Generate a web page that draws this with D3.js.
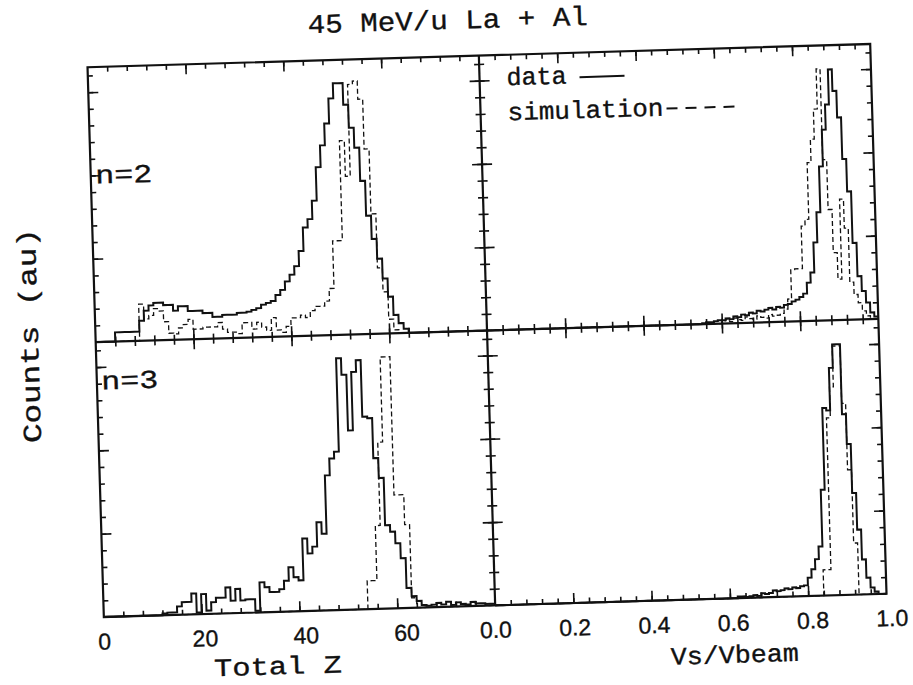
<!DOCTYPE html>
<html lang="en">
<head>
<meta charset="utf-8">
<title>45 MeV/u La + Al</title>
<script src="https://cdn.jsdelivr.net/npm/d3@7"></script>
<style>
  body { margin: 0; background: #fff; }
  text { fill: #111; stroke: #111; stroke-width: 0.35px; }
</style>
</head>
<body>
<div id="chart"></div>
<script>
// bin starts: Total Z in steps of 1, Vs/Vbeam in steps of 0.01
var zBins = d3.range(0, 80);
var vBins = d3.range(0, 100).map(function(k) { return k / 100; });

// n=2, Total Z
var zTopData = [0,0,0,0,11,11,11,11,11,24, 36,42,45,45,42,42,35,40,40,34,
  34,34,31,31,26,26,28,28,28,30, 30,31,33,35,39,41,43,50,56,66,
  74,84,102,130,140,162,202,228,254,284, 302,302,276,248,224,184,142,114,90,66,
  44,22,12,5,0,0,0,0,0,0, 0,0,0,0,0,0,0,0,0,0];
var zTopSim = [0,0,0,0,0,0,0,0,0,44, 26,30,38,35,22,8,7,14,18,24,
  12,12,14,14,14,19,11,7,7,5, 18,18,10,18,12,8,23,8,5,12,
  22,22,25,22,30,35,35,41,56,113, 113,233,190,300,304,282,222,144,79,50,
  17,4,0,0,0,0,0,0,0,0, 0,0,0,0,0,0,0,0,0,0];

// n=3, Total Z
var zBotData = [0,0,0,0,0,0,0,0,0,0, 0,0,2,3,3,10,15,15,25,2,
  24,4,14,19,19,31,15,29,15,16, 16,2,36,30,24,24,27,37,53,41,
  37,87,69,77,106,92,162,182,190,302, 282,215,285,299,231,229,181,157,100,92,
  78,60,24,14,8,3,2,3,5,3, 6,2,5,3,2,5,3,3,2,2];
var zBotSim = [0,0,0,0,0,0,0,0,0,0, 0,0,0,0,0,0,0,0,0,0,
  0,0,0,0,0,0,0,0,0,0, 0,0,0,0,0,0,0,0,0,0,
  0,0,0,0,0,0,0,0,0,0, 0,0,0,0,34,34,100,200,302,302,
  136,136,100,12,0,0,0,0,0,0, 0,0,0,0,0,0,0,0,0,0];

// n=2, Vs/Vbeam
var vTopData = [0,0,0,0,0,0,0,0,0,0, 0,0,0,0,0,0,0,0,0,0,
  0,0,0,0,0,0,0,0,0,0, 0,0,0,0,0,0,0,0,0,0,
  0,0,0,0,0,0,0,0,0,0, 0,0,0,0,0,1,2,2,3,4,
  4,6,5,8,7,10,9,12,11,14, 13,15,17,15,18,17,20,21,24,26,
  29,33,46,58,94,130,185,229,259,301, 275,243,193,154,92,52,34,20,8,3];
var vTopSim = [0,0,0,0,0,0,0,0,0,0, 0,0,0,0,0,0,0,0,0,0,
  0,0,0,0,0,0,0,0,0,0, 0,0,0,0,0,0,0,0,0,0,
  0,0,0,0,0,0,0,0,0,0, 0,0,0,0,0,0,0,0,0,0,
  3,5,2,6,4,3,7,5,4,8, 6,5,9,7,8,10,15,27,62,63,
  63,114,122,190,218,254,302,193,133,81, 49,145,110,45,30,20,10,4,0,0];

// n=3, Vs/Vbeam
var vBotData = [0,0,0,0,0,0,0,0,0,0, 0,0,0,0,0,0,0,0,0,0,
  0,0,0,0,0,0,0,0,0,0, 0,0,0,0,0,0,0,0,0,0,
  0,0,0,0,0,0,0,0,0,0, 0,0,0,0,0,0,0,0,0,0,
  0,0,2,2,1,2,3,2,5,4, 5,8,7,8,10,9,11,10,12,13,
  22,32,44,59,127,225,222,273,301,301, 217,181,122,78,42,20,8,3,0,0];
var vBotSim = [0,0,0,0,0,0,0,0,0,0, 0,0,0,0,0,0,0,0,0,0,
  0,0,0,0,0,0,0,0,0,0, 0,0,0,0,0,0,0,0,0,0,
  0,0,0,0,0,0,0,0,0,0, 0,0,0,0,0,0,0,0,0,0,
  0,0,0,0,0,0,0,0,0,0, 0,0,0,0,0,0,0,0,0,0,
  0,0,0,0,31,31,213,250,299,299, 230,150,62,0,0,0,0,0,0,0];

var zLabels = ["0", "20", "40", "60"];
var vLabels = ["0.0", "0.2", "0.4", "0.6", "0.8", "1.0"];

var W = 913, H = 685;
var svg = d3.select("#chart").append("svg")
  .attr("width", W).attr("height", H)
  .style("background", "#fff");

// the scanned page sits slightly tilted
var g = svg.append("g").attr("transform", "rotate(-1.7,487,330)");

var xZ = d3.scaleLinear().domain([0, 80]).range([95.5, 487]);
var xV = d3.scaleLinear().domain([0, 1]).range([487, 878.5]);
var yTop = d3.scaleLinear().domain([0, 330]).range([330.5, 55.5]);
var yBot = d3.scaleLinear().domain([0, 330]).range([605.5, 330.5]);

var zMinor = d3.range(4, 80, 4), zMajor = [20, 40, 60];
var vMinor = d3.range(1, 25).map(function(k) { return k * 0.04; }), vMajor = [0.2, 0.4, 0.6, 0.8];
var yMinor = d3.range(20, 330, 20), yMajor = [100, 200, 300];

function ticks(x, y, xMinor, xMajor) {
  var p = g.append("g").attr("class", "ticks");
  var xl = x.range()[0], xr = x.range()[1], yt = y.range()[1], yb = y.range()[0];
  [[xMinor, 5], [xMajor, 10]].forEach(function(t) {
    p.append("g").attr("transform", "translate(0," + yt + ")")
      .call(d3.axisBottom(x).tickValues(t[0]).tickSize(t[1]).tickFormat(""));
    p.append("g").attr("transform", "translate(0," + yb + ")")
      .call(d3.axisTop(x).tickValues(t[0]).tickSize(t[1]).tickFormat(""));
  });
  [[yMinor, 5], [yMajor, 10]].forEach(function(t) {
    p.append("g").attr("transform", "translate(" + xl + ",0)")
      .call(d3.axisRight(y).tickValues(t[0]).tickSize(t[1]).tickFormat(""));
    p.append("g").attr("transform", "translate(" + xr + ",0)")
      .call(d3.axisLeft(y).tickValues(t[0]).tickSize(t[1]).tickFormat(""));
  });
  p.selectAll(".domain").remove();
  p.selectAll(".tick line").attr("stroke", "#111").attr("stroke-width", 1.6);
}

function hist(x, y, bins, vals, width, dashed) {
  var pts = bins.map(function(b, i) { return [b, vals[i]]; });
  pts.push([bins[bins.length - 1] + width, vals[vals.length - 1]]);
  var line = d3.line()
    .x(function(d) { return x(d[0]); })
    .y(function(d) { return y(d[1]); })
    .curve(d3.curveStepAfter);
  g.append("path")
    .attr("d", line(pts))
    .attr("fill", "none")
    .attr("stroke", "#111")
    .attr("stroke-width", dashed ? 1.3 : 2)
    .attr("stroke-dasharray", dashed ? "5,3" : null);
}

ticks(xZ, yTop, zMinor, zMajor);
ticks(xV, yTop, vMinor, vMajor);
ticks(xZ, yBot, zMinor, zMajor);
ticks(xV, yBot, vMinor, vMajor);

hist(xZ, yTop, zBins, zTopSim, 1, true);
hist(xZ, yTop, zBins, zTopData, 1, false);
hist(xZ, yBot, zBins, zBotSim, 1, true);
hist(xZ, yBot, zBins, zBotData, 1, false);
hist(xV, yTop, vBins, vTopSim, 0.01, true);
hist(xV, yTop, vBins, vTopData, 0.01, false);
hist(xV, yBot, vBins, vBotSim, 0.01, true);
hist(xV, yBot, vBins, vBotData, 0.01, false);

// frame and dividers
g.append("rect")
  .attr("x", xZ(0)).attr("y", yTop(330))
  .attr("width", xV(1) - xZ(0)).attr("height", yBot(0) - yTop(330))
  .attr("fill", "none").attr("stroke", "#111").attr("stroke-width", 2.2);
g.append("line")
  .attr("x1", xV(0)).attr("x2", xV(0)).attr("y1", yTop(330)).attr("y2", yBot(0))
  .attr("stroke", "#111").attr("stroke-width", 2.2);
g.append("line")
  .attr("x1", xZ(0)).attr("x2", xV(1)).attr("y1", yTop(0)).attr("y2", yTop(0))
  .attr("stroke", "#111").attr("stroke-width", 2.2);

// tick labels
var mono = "'Liberation Mono', 'DejaVu Sans Mono', monospace";
var sans = "'Liberation Sans', Arial, sans-serif";
g.selectAll(".zlab").data(zLabels).enter().append("text")
  .attr("x", function(d, i) { return xZ(+d) + i * 3; })
  .attr("y", 638)
  .attr("text-anchor", "middle")
  .style("font-family", sans).style("font-size", "23px")
  .text(function(d) { return d; });
g.selectAll(".vlab").data(vLabels).enter().append("text")
  .attr("x", function(d, i) { return xV(+d) + i; })
  .attr("y", 638)
  .attr("text-anchor", "middle")
  .style("font-family", sans).style("font-size", "23px")
  .text(function(d) { return d; });

// titles
g.append("text").attr("x", 457).attr("y", 28).attr("text-anchor", "middle")
  .attr("textLength", 280).attr("lengthAdjust", "spacingAndGlyphs")
  .style("font-family", mono).style("font-size", "27px")
  .text("45 MeV/u La + Al");
g.append("text").attr("x", 268).attr("y", 668).attr("text-anchor", "middle")
  .attr("textLength", 128).attr("lengthAdjust", "spacingAndGlyphs")
  .style("font-family", mono).style("font-size", "25px")
  .text("Total Z");
g.append("text").attr("x", 725).attr("y", 670).attr("text-anchor", "middle")
  .attr("textLength", 128).attr("lengthAdjust", "spacingAndGlyphs")
  .style("font-family", mono).style("font-size", "25px")
  .text("Vs/Vbeam");
g.append("text").attr("transform", "translate(38,322) rotate(-90)")
  .attr("text-anchor", "middle")
  .attr("textLength", 215).attr("lengthAdjust", "spacingAndGlyphs")
  .style("font-family", mono).style("font-size", "26px")
  .text("Counts (au)");

// panel tags
g.append("text").attr("x", 100).attr("y", 172)
  .attr("textLength", 57).attr("lengthAdjust", "spacingAndGlyphs")
  .style("font-family", mono).style("font-size", "26px").text("n=2");
g.append("text").attr("x", 100).attr("y", 378)
  .attr("textLength", 57).attr("lengthAdjust", "spacingAndGlyphs")
  .style("font-family", mono).style("font-size", "26px").text("n=3");

// legend
g.append("text").attr("x", 514).attr("y", 86)
  .style("font-family", mono).style("font-size", "25px").text("data");
g.append("line").attr("x1", 587).attr("x2", 632).attr("y1", 80).attr("y2", 80)
  .attr("stroke", "#111").attr("stroke-width", 2);
g.append("text").attr("x", 514).attr("y", 121)
  .attr("textLength", 156).attr("lengthAdjust", "spacingAndGlyphs")
  .style("font-family", mono).style("font-size", "25px").text("simulation");
g.append("line").attr("x1", 673).attr("x2", 744).attr("y1", 114).attr("y2", 114)
  .attr("stroke", "#111").attr("stroke-width", 2).attr("stroke-dasharray", "11,8");
</script>
</body>
</html>
